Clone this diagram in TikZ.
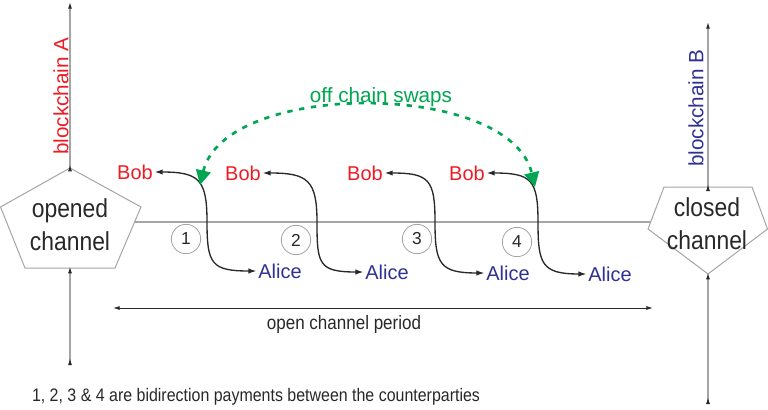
\documentclass[tikz,border=0pt]{standalone}
\usepackage{fontspec}
\setmainfont{Liberation Sans}
\newfontfamily\narrowfont[FakeStretch=0.88]{Liberation Sans}
\usetikzlibrary{arrows.meta}

\definecolor{bobred}{RGB}{237,28,36}
\definecolor{alicenavy}{RGB}{46,49,146}
\definecolor{swapgreen}{RGB}{0,166,81}
\definecolor{railgray}{RGB}{165,165,165}
\definecolor{inkdark}{RGB}{40,40,40}

\tikzset{every picture/.style={line width=0.75pt}}
\tikzset{
  bobname/.style={text=bobred, font=\fontsize{15}{15}\selectfont, inner sep=1pt},
  alicename/.style={text=alicenavy, font=\fontsize{15}{15}\selectfont, inner sep=1pt},
  chainname/.style={font=\fontsize{15.5}{15.5}\selectfont, inner sep=0pt, rotate=90},
  boxname/.style={font=\narrowfont\fontsize{19.5}{25}\selectfont, align=center, text=inkdark, inner sep=0pt},
  numcirc/.style={circle, draw=railgray, line width=0.6pt, minimum size=22pt, inner sep=0pt, font=\fontsize{13}{13}\selectfont, text=inkdark},
  railline/.style={draw=railgray, line width=0.8pt, {Latex[reversed,length=5pt,width=3pt,color=inkdark]}-{Latex[length=5pt,width=3pt,color=inkdark]}},
  payline/.style={draw=inkdark, line width=1pt, {Latex[length=6pt,width=4pt]}-{Latex[length=6pt,width=4pt]}},
  swapline/.style={draw=swapgreen, line width=2pt, dash pattern=on 4pt off 5pt, {Triangle[length=11pt,width=11pt]}-{Triangle[length=11pt,width=11pt]}},
}

\begin{document}
\begin{tikzpicture}[x=0.75pt,y=0.75pt,yscale=-1,xscale=1]
\useasboundingbox (0,0) rectangle (768,410);

%Shape: Pentagon [opened]
\draw[draw=railgray] (70,168) -- (141,207) -- (115,268) -- (25,268) -- (0.5,207) -- cycle ;
%Shape: Pentagon [closed]
\draw[draw=railgray] (664,187) -- (752,187) -- (767.5,229) -- (708,274) -- (648,229) -- cycle ;

\coordinate (opTop) at (70,168);
\coordinate (opBot) at (70,268);
\coordinate (opEdge) at (135,222);
\coordinate (clTop) at (708,187);
\coordinate (clBot) at (708,274);
\coordinate (clEdge) at (651,222);

% Text Node
\node[boxname] (opened) at (70,225) {opened\\channel};
% Text Node
\node[boxname] (closed) at (707,224) {closed\\channel};

% chain rails
\coordinate (railA) at (70,2);
\coordinate (railAtail) at (70,365);
\coordinate (railB) at (708,22);
\coordinate (railBtail) at (708,404);
\draw[railline] ([yshift=2.5]opTop) -- (railA);
\draw[railline] (railAtail) -- ([yshift=-1]opBot);
\draw[railline] ([yshift=3]clTop) -- (railB);
\draw[railline] (railBtail) -- ([yshift=-1]clBot);

% Text Node
\node[chainname, text=bobred] (chainA) at (61,96) {blockchain A};
% Text Node
\node[chainname, text=alicenavy] (chainB) at (696,108) {blockchain B};

% channel line
\draw[draw=railgray, line width=0.8pt] (opEdge) -- (clEdge);

% Text Node
\node[bobname] (bob1) at (135,172) {Bob};
\node[bobname] (bob2) at (243,173) {Bob};
\node[bobname] (bob3) at (365,173) {Bob};
\node[bobname] (bob4) at (467,173) {Bob};
% Text Node
\node[alicename] (alice1) at (280,271) {Alice};
\node[alicename] (alice2) at (387,272) {Alice};
\node[alicename] (alice3) at (508,273) {Alice};
\node[alicename] (alice4) at (610,274) {Alice};

% payments
\coordinate (pay1) at (207,222);
\coordinate (pay2) at (317,222);
\coordinate (pay3) at (435,222);
\coordinate (pay4) at (538,222);
\draw[payline] (bob1.east) .. controls +(45,0) and +(0,-42) .. (pay1) .. controls +(0,42) and +(-45,0) .. (alice1.west);
\draw[payline] (bob2.east) .. controls +(45,0) and +(0,-42) .. (pay2) .. controls +(0,42) and +(-45,0) .. (alice2.west);
\draw[payline] (bob3.east) .. controls +(45,0) and +(0,-42) .. (pay3) .. controls +(0,42) and +(-45,0) .. (alice3.west);
\draw[payline] (bob4.east) .. controls +(45,0) and +(0,-42) .. (pay4) .. controls +(0,42) and +(-45,0) .. (alice4.west);

% Shape: Circle
\node[numcirc] (n1) at (186,239) {1};
\node[numcirc] (n2) at (296,240) {2};
\node[numcirc] (n3) at (417,239) {3};
\node[numcirc] (n4) at (517,242) {4};

% off chain swaps
\coordinate (swapL) at (200,185);
\coordinate (swapR) at (535,187);
\draw[swapline] (swapL) .. controls (225,80) and (510,80) .. (swapR);
% Text Node
\node[text=swapgreen, font=\fontsize{15.5}{15.5}\selectfont, inner sep=0pt] (swaps) at (381,97) {off chain swaps};

% open channel period
\coordinate (perL) at (113,308);
\coordinate (perR) at (653,308);
\draw[draw=inkdark, line width=0.7pt, {Latex[length=5pt,width=3pt]}-{Latex[length=5pt,width=3pt]}] (perL) -- (perR);
% Text Node
\node[font=\narrowfont\fontsize{14.5}{14.5}\selectfont, text=inkdark, inner sep=0pt] (period) at (344,324) {open channel period};

% Text Node
\node[font=\narrowfont\fontsize{13.6}{13.6}\selectfont, text=inkdark, inner sep=0pt] (note) at (256,397) {1, 2, 3 \& 4 are bidirection payments between the counterparties};

\end{tikzpicture}
\end{document}
